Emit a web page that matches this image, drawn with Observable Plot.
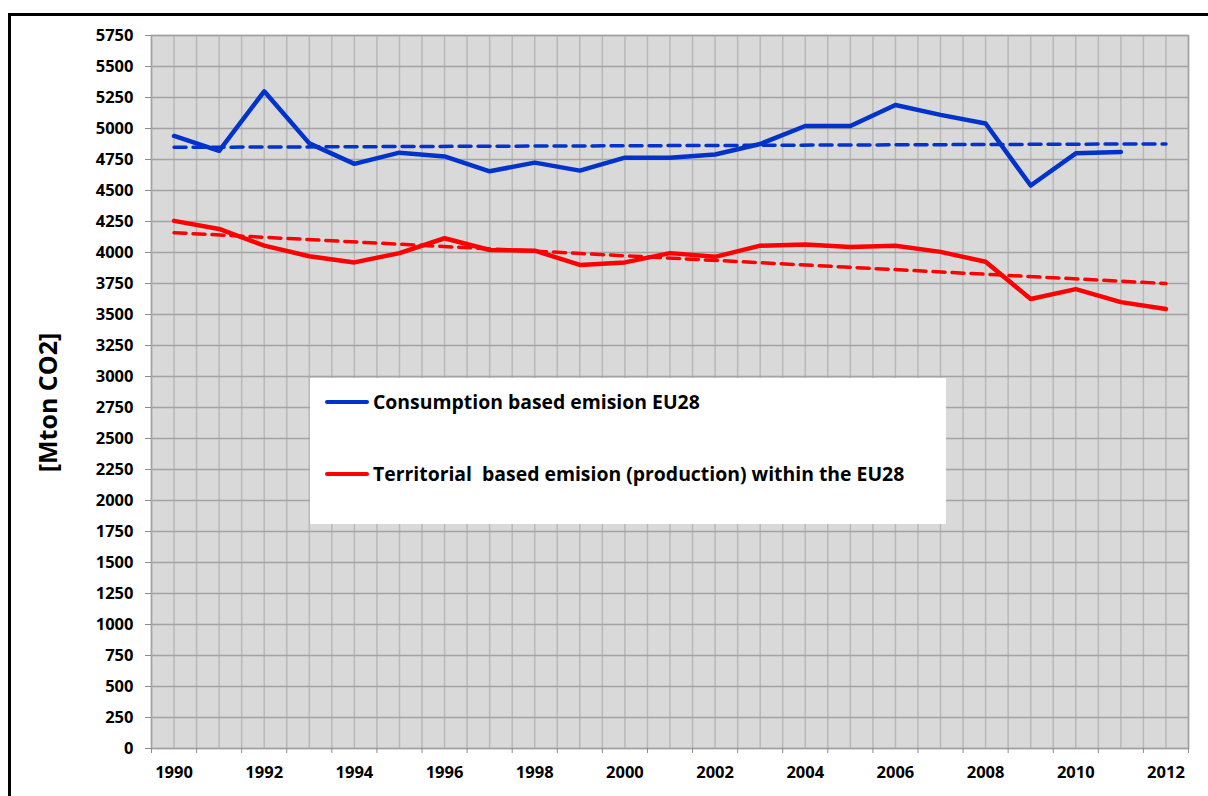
<!DOCTYPE html>
<html>
<head>
<meta charset="utf-8">
<script src="https://cdn.jsdelivr.net/npm/d3@7"></script>
<script src="https://cdn.jsdelivr.net/npm/@observablehq/plot@0.6"></script>
<style>
  html, body { margin: 0; padding: 0; background: #fff; overflow: hidden; }
  #wrap { position: relative; width: 1208px; height: 796px; font-family: "Open Sans", sans-serif; }
  #chart { position: absolute; left: 0; top: 0; }
  #border { position: absolute; left: 8px; top: 13px; right: 0; bottom: 0; border-top: 3px solid #000; border-left: 3px solid #000; pointer-events: none; }
  #legend { position: absolute; left: 310px; top: 378px; width: 636px; height: 146px; background: #fff; }
  .item { position: absolute; left: 15px; height: 30px; display: flex; align-items: center; font-weight: 700; font-size: 19.4px; color: #000; white-space: pre; }
  .swatch { width: 44px; height: 4px; margin-right: 4px; border-radius: 2px; }
</style>
</head>
<body>
<div id="wrap">
  <div id="chart"></div>
  <div id="legend"></div>
  <div id="border"></div>
</div>
<script>
// ---- data ----
const years = [1990, 1991, 1992, 1993, 1994, 1995, 1996, 1997, 1998, 1999, 2000, 2001,
               2002, 2003, 2004, 2005, 2006, 2007, 2008, 2009, 2010, 2011, 2012];
const consumption = [4940, 4820, 5300, 4880, 4715, 4805, 4775, 4655, 4725, 4660, 4765, 4765,
                     4790, 4875, 5020, 5020, 5190, 5110, 5040, 4540, 4800, 4810, null];
const territorial = [4255, 4190, 4055, 3970, 3920, 3995, 4115, 4020, 4015, 3900, 3920, 3995,
                     3965, 4055, 4065, 4045, 4055, 4005, 3925, 3625, 3705, 3600, 3545];
const trendYears = [1990, 2012];
const consumptionTrend = [4848, 4876];
const territorialTrend = [4160, 3750];
const yTicks = [0, 250, 500, 750, 1000, 1250, 1500, 1750, 2000, 2250, 2500, 2750, 3000,
                3250, 3500, 3750, 4000, 4250, 4500, 4750, 5000, 5250, 5500, 5750];
const xTickLabels = [1990, 1992, 1994, 1996, 1998, 2000, 2002, 2004, 2006, 2008, 2010, 2012];
const seriesNames = ["Consumption based emision EU28", "Territorial  based emision (production) within the EU28"];
const seriesColors = ["#0033cc", "#ff0000"];
const yLabel = "[Mton CO2]";

// category boundaries and half-category grid lines (Excel category axis)
const xMin = years[0] - 0.5, xMax = years[years.length - 1] + 0.5;
const boundaries = d3.range(xMin, xMax + 0.01, 1);
const vGrid = d3.range(xMin, xMax + 0.01, 0.5);

const chart = Plot.plot({
  width: 1208,
  height: 796,
  marginLeft: 151,
  marginRight: 20,
  marginTop: 35,
  marginBottom: 48,
  style: { fontFamily: "Open Sans, sans-serif", fontSize: "16.5px", fontWeight: "bold", color: "#000", background: "transparent" },
  x: { domain: [xMin, xMax] },
  y: { domain: [0, 5750] },
  marks: [
    Plot.frame({ fill: "#d9d9d9", stroke: null }),
    Plot.ruleX(vGrid, { stroke: "#b8b8b8", strokeWidth: 1.5 }),
    Plot.ruleY(yTicks, { stroke: "#a3a3a3", strokeWidth: 1.5 }),
    Plot.frame({ stroke: "#a3a3a3", strokeWidth: 1.5 }),
    Plot.axisY({ ticks: yTicks, tickSize: 6, tickPadding: 12, stroke: "#8c8c8c", label: null, tickFormat: d => String(d) }),
    Plot.axisX({ ticks: boundaries, tickSize: 5, tickFormat: () => "", stroke: "#8c8c8c", label: null }),
    Plot.axisX({ ticks: xTickLabels, tickSize: 0, tickPadding: 18, tickFormat: d => String(d), label: null }),
    Plot.text([yLabel], { frameAnchor: "left", dx: -103, dy: 10.5, rotate: -90, fontSize: 25, fontWeight: "bold", textAnchor: "middle" }),
    Plot.line(years, { x: years, y: consumption, stroke: seriesColors[0], strokeWidth: 4.5 }),
    Plot.line(years, { x: years, y: territorial, stroke: seriesColors[1], strokeWidth: 4.5 }),
    Plot.line(trendYears, { x: trendYears, y: consumptionTrend, stroke: seriesColors[0], strokeWidth: 3.5, strokeDasharray: "12,7" }),
    Plot.line(trendYears, { x: trendYears, y: territorialTrend, stroke: seriesColors[1], strokeWidth: 3.5, strokeDasharray: "12,7" })
  ]
});
document.getElementById("chart").appendChild(chart);

// legend box
const legend = document.getElementById("legend");
const itemTops = [8.5, 80.5];
seriesNames.forEach((name, i) => {
  const item = document.createElement("div");
  item.className = "item";
  item.style.top = itemTops[i] + "px";
  const sw = document.createElement("span");
  sw.className = "swatch";
  sw.style.background = seriesColors[i];
  const label = document.createElement("span");
  label.textContent = name;
  item.appendChild(sw);
  item.appendChild(label);
  legend.appendChild(item);
});
</script>
</body>
</html>
